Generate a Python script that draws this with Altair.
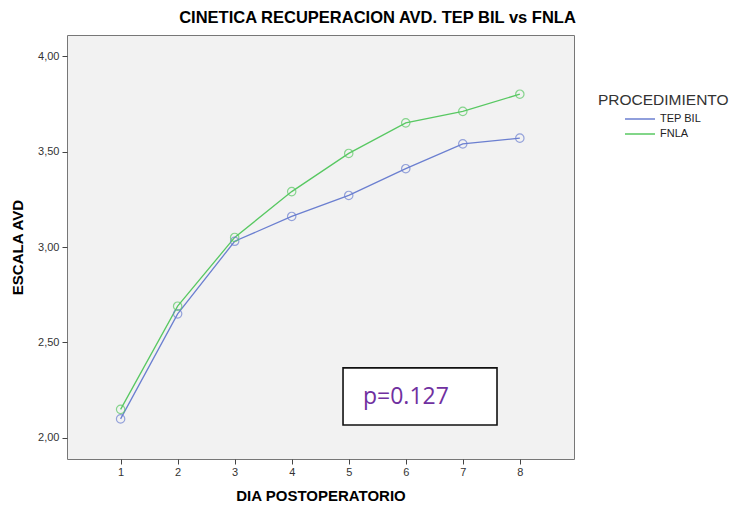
import altair as alt
import pandas as pd

# Postoperative day and mean ADL score per procedure
days = [1, 2, 3, 4, 5, 6, 7, 8]
tep_bil = [2.10, 2.65, 3.03, 3.16, 3.27, 3.41, 3.54, 3.57]
fnla = [2.15, 2.69, 3.05, 3.29, 3.49, 3.65, 3.71, 3.80]
groups = ["TEP BIL", "FNLA"]
colors = ["#6b7fd0", "#58c862"]

# p-value annotation box (data units)
p_label = ["p=0.127"]
box_x = [4.9]
box_x2 = [7.6]
box_y = [2.068]
box_y2 = [2.367]
label_x = [5.25]
label_y = [2.215]

rows = []
for d, a, b in zip(days, tep_bil, fnla):
    rows.append({"dia": d, "avd": a, "PROCEDIMIENTO": groups[0]})
    rows.append({"dia": d, "avd": b, "PROCEDIMIENTO": groups[1]})
df = pd.DataFrame(rows)

box_df = pd.DataFrame({"x": box_x, "x2": box_x2, "y": box_y, "y2": box_y2})
lab_df = pd.DataFrame({"x": label_x, "y": label_y, "t": p_label})

xscale = alt.Scale(domain=[0.06, 8.95], nice=False, zero=False)
yscale = alt.Scale(domain=[1.89, 4.11], nice=False, zero=False)
cscale = alt.Scale(domain=groups, range=colors)

x_axis = alt.Axis(
    values=days, format="d", grid=False, domain=False, tickSize=5, tickColor="#444",
    labelFontSize=11, labelColor="#333", labelPadding=2,
    title="DIA POSTOPERATORIO", titleFontSize=15, titleFontWeight="bold",
    titleColor="#000", titleY=36, titleBaseline="middle",
)
y_axis = alt.Axis(
    values=[2.0, 2.5, 3.0, 3.5, 4.0], grid=False, domain=False, tickSize=5,
    tickColor="#444", labelFontSize=11, labelColor="#333", labelPadding=3,
    labelExpr="replace(format(datum.value, '.2f'), '.', ',')",
    title="ESCALA AVD", titleFontSize=15, titleFontWeight="bold",
    titleColor="#000", titleX=-50, titleY=212, titleAngle=-90,
    titleBaseline="middle", titleAlign="center",
)

lines = alt.Chart(df).mark_line(strokeWidth=1.3).encode(
    x=alt.X("dia:Q", scale=xscale, axis=x_axis),
    y=alt.Y("avd:Q", scale=yscale, axis=y_axis),
    color=alt.Color(
        "PROCEDIMIENTO:N", scale=cscale, sort=groups,
        legend=alt.Legend(
            orient="none", legendX=531, legendY=58, symbolType="stroke",
            symbolStrokeWidth=1.5, symbolSize=900, symbolOffset=26,
            clipHeight=15,
            titleFontSize=15.5, titleFontWeight="normal", titleColor="#333",
            labelFontSize=11, labelColor="#222", rowPadding=0, titlePadding=3,
        ),
    ),
)

points = alt.Chart(df).mark_point(shape="circle", filled=False, size=70, strokeWidth=1.2).encode(
    x=alt.X("dia:Q", scale=xscale),
    y=alt.Y("avd:Q", scale=yscale),
    color=alt.Color("PROCEDIMIENTO:N", scale=cscale, legend=None),
)

box = alt.Chart(box_df).mark_rect(fill="white", stroke="#111", strokeWidth=1.6).encode(
    x="x:Q", x2="x2:Q", y="y:Q", y2="y2:Q"
)

label = alt.Chart(lab_df).mark_text(
    align="left", baseline="middle", fontSize=23, color="#7030a0", font="Open Sans"
).encode(x="x:Q", y="y:Q", text="t:N")

chart = alt.layer(lines, points, box, label).properties(
    width=507,
    height=424,
    autosize=alt.AutoSizeParams(type="none"),
    padding={"left": 67, "top": 35, "right": 160, "bottom": 49},
    title=alt.TitleParams(
        "CINETICA RECUPERACION AVD. TEP BIL vs FNLA", fontSize=16.5,
        fontWeight="bold", color="#000", font="Liberation Sans",
        anchor="middle", dx=57, offset=9,
    ),
).configure(font="Liberation Sans").configure_view(
    fill="#f2f2f2", stroke="#777", strokeWidth=1
)

chart.save("out.html", embed_options={"renderer": "svg", "actions": False})
